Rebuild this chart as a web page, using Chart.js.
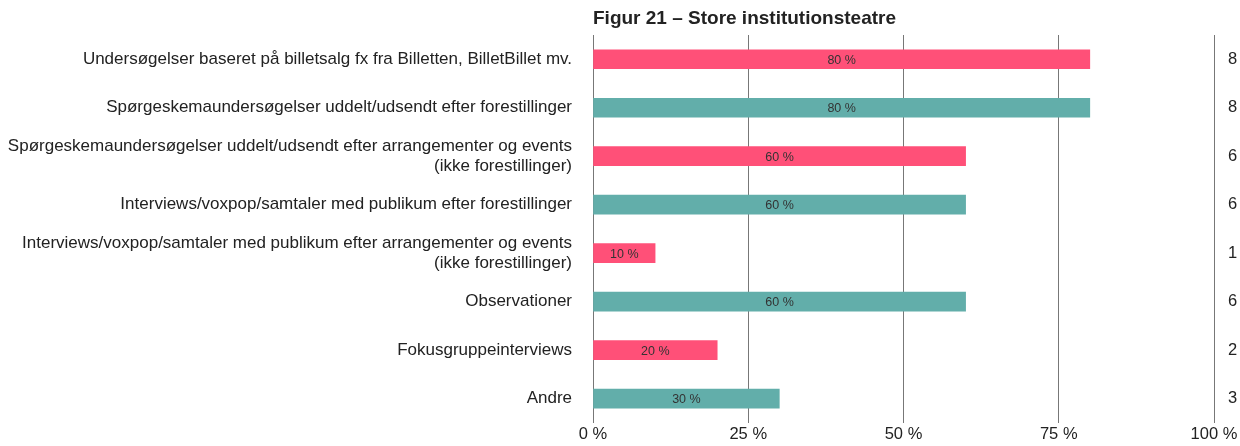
<!DOCTYPE html>
<html>
<head>
<meta charset="utf-8">
<script src="https://cdn.jsdelivr.net/npm/chart.js@4/dist/chart.umd.min.js"></script>
<style>
  html, body { margin: 0; padding: 0; background: #fff; }
  #wrap { width: 1240px; height: 446px; position: relative; }
</style>
</head>
<body>
<div id="wrap"><canvas id="chart"></canvas></div>
<script>
// Figur 21 - Store institutionsteatre
var chartTitle = 'Figur 21 – Store institutionsteatre';
var categories = [
    'Undersøgelser baseret på billetsalg fx fra Billetten, BilletBillet mv.',
    'Spørgeskemaundersøgelser uddelt/udsendt efter forestillinger',
    ['Spørgeskemaundersøgelser uddelt/udsendt efter arrangementer og events', '(ikke forestillinger)'],
    'Interviews/voxpop/samtaler med publikum efter forestillinger',
    ['Interviews/voxpop/samtaler med publikum efter arrangementer og events', '(ikke forestillinger)'],
    'Observationer',
    'Fokusgruppeinterviews',
    'Andre'
];
var percentValues = [80, 80, 60, 60, 10, 60, 20, 30];
var counts = ['8', '8', '6', '6', '1', '6', '2', '3'];
var xTicks = [0, 25, 50, 75, 100];

var pink = '#FF5078';
var teal = '#62AEAA';
var barColors = percentValues.map(function(v, i) { return i % 2 === 0 ? pink : teal; });

var FONT = '"Liberation Sans", Arial, Helvetica, sans-serif';

// Draws the value labels in the middle of each bar and the figure title
var barLabels = {
    id: 'barLabels',
    afterDatasetsDraw: function(chart) {
        var ctx = chart.ctx;
        var meta = chart.getDatasetMeta(0);
        ctx.save();
        ctx.font = '12.5px ' + FONT;
        ctx.fillStyle = '#333';
        ctx.textAlign = 'center';
        ctx.textBaseline = 'middle';
        meta.data.forEach(function(bar, i) {
            var cx = (bar.x + bar.base) / 2;
            ctx.fillText(percentValues[i] + ' %', cx, bar.y + 1);
        });
        ctx.font = 'bold 19px ' + FONT;
        ctx.fillStyle = '#222';
        ctx.textAlign = 'left';
        ctx.fillText(chartTitle, chart.chartArea.left, 19);
        ctx.restore();
    }
};

new Chart(document.getElementById('chart'), {
    type: 'bar',
    data: {
        labels: categories,
        datasets: [{
            data: percentValues,
            backgroundColor: barColors,
            barThickness: 19,
            borderWidth: 0
        }]
    },
    options: {
        indexAxis: 'y',
        responsive: true,
        maintainAspectRatio: false,
        animation: false,
        layout: { padding: { top: 35, left: 0, right: 0, bottom: 0 } },
        plugins: {
            legend: { display: false },
            tooltip: { enabled: false }
        },
        scales: {
            x: {
                min: 0,
                max: 100,
                afterBuildTicks: function(scale) {
                    scale.ticks = xTicks.map(function(v) { return { value: v }; });
                },
                grid: { color: '#777', lineWidth: 1, drawTicks: false },
                border: { display: false },
                ticks: {
                    padding: 2,
                    color: '#222',
                    font: { family: FONT, size: 16.5 },
                    callback: function(v) { return v + ' %'; }
                },
                afterFit: function(scale) { scale.height = 19; }
            },
            y: {
                grid: { display: false },
                border: { display: false },
                ticks: {
                    padding: 13,
                    color: '#222',
                    font: { family: FONT, size: 17, lineHeight: 1.2 }
                },
                afterFit: function(scale) { scale.width = 593; }
            },
            yRight: {
                type: 'category',
                position: 'right',
                labels: counts,
                offset: true,
                grid: { display: false },
                border: { display: false },
                ticks: {
                    padding: 6,
                    color: '#222',
                    font: { family: FONT, size: 16.5 }
                },
                afterFit: function(scale) { scale.width = 26; }
            }
        }
    },
    plugins: [barLabels]
});
</script>
</body>
</html>
